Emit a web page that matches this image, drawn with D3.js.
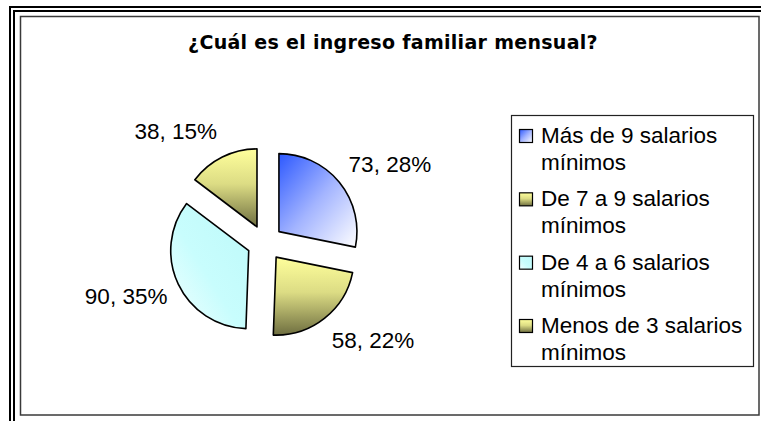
<!DOCTYPE html>
<html>
<head>
<meta charset="utf-8">
<script src="https://cdn.jsdelivr.net/npm/d3@7"></script>
<style>
  html, body { margin: 0; padding: 0; background: #fff; }
  svg { display: block; }
</style>
</head>
<body>
<svg id="chart" width="761" height="421"></svg>
<script>
// Ingreso familiar mensual: número de familias por rango de salarios mínimos
const categories = [
  ["Más de 9 salarios", "mínimos"],
  ["De 7 a 9 salarios", "mínimos"],
  ["De 4 a 6 salarios", "mínimos"],
  ["Menos de 3 salarios", "mínimos"]
];
const values = [73, 58, 90, 38];
const fills = ["blue", "olive", "cyan", "olive"];
const titleText = "¿Cuál es el ingreso familiar mensual?";

const svg = d3.select("#chart");
const W = 761, H = 421;

// gradient fills
const defs = svg.append("defs");
function grad(id, x1, y1, x2, y2, stops) {
  const g = defs.append("linearGradient").attr("id", id)
    .attr("x1", x1).attr("y1", y1).attr("x2", x2).attr("y2", y2);
  stops.forEach(([o, c]) => g.append("stop").attr("offset", o).attr("stop-color", c));
}
grad("g-blue", 0, 0, 1, 1, [[0, "#2c58ff"], [0.5, "#a3b4ff"], [1, "#ffffff"]]);
grad("g-olive", 0, 0, 0, 1, [[0, "#ffff9c"], [0.45, "#dcdc84"], [1, "#6e6e40"]]);
grad("g-cyan", 1, 0, 0, 1, [[0, "#bdf9f9"], [0.55, "#c8fdfd"], [1, "#f2ffff"]]);

// frame: double rule on top and left, plus inner plot box
const frame = svg.append("g");
frame.append("line").attr("x1", 9).attr("x2", W).attr("y1", 7).attr("y2", 7)
  .attr("stroke", "#000").attr("stroke-width", 2);
frame.append("line").attr("x1", 13).attr("x2", W).attr("y1", 11).attr("y2", 11)
  .attr("stroke", "#000").attr("stroke-width", 2);
frame.append("line").attr("x1", 10).attr("x2", 10).attr("y1", 6).attr("y2", H)
  .attr("stroke", "#000").attr("stroke-width", 2);
frame.append("line").attr("x1", 14).attr("x2", 14).attr("y1", 10).attr("y2", H)
  .attr("stroke", "#000").attr("stroke-width", 2);
frame.append("rect").attr("x", 20.5).attr("y", 16.5).attr("width", 738.5).attr("height", 398.5)
  .attr("fill", "#fff").attr("stroke", "#3a3a3a").attr("stroke-width", 1.5);

// title
svg.append("text")
  .attr("x", 393).attr("y", 49)
  .attr("text-anchor", "middle")
  .attr("font-family", "'DejaVu Sans', Verdana, sans-serif")
  .attr("font-weight", "bold")
  .attr("font-size", 19)
  .attr("letter-spacing", 0.3)
  .attr("fill", "#000")
  .text(titleText);

// pie
const cx = 265, cy = 243, radius = 78, explode = 18;
const labelRx = 108, labelRy = 124;
const total = d3.sum(values);
const pie = d3.pie().sort(null).value(d => d)(values);
const arc = d3.arc().innerRadius(0).outerRadius(radius);
const pctFmt = v => Math.round(v / total * 100) + "%";

const pieG = svg.append("g").attr("transform", `translate(${cx},${cy})`);
pie.forEach((d, i) => {
  const mid = (d.startAngle + d.endAngle) / 2;
  const dx = Math.sin(mid), dy = -Math.cos(mid);
  pieG.append("path")
    .attr("transform", `translate(${dx * explode},${dy * explode})`)
    .attr("d", arc(d))
    .attr("fill", `url(#g-${fills[i]})`)
    .attr("stroke", "#000")
    .attr("stroke-width", 1.6)
    .attr("stroke-linejoin", "round");
  pieG.append("text")
    .attr("x", dx * labelRx)
    .attr("y", dy * labelRy)
    .attr("text-anchor", dx >= 0 ? "start" : "end")
    .attr("dominant-baseline", "central")
    .attr("font-family", "'Liberation Sans', Arial, sans-serif")
    .attr("font-size", 22.5)
    .attr("fill", "#000")
    .text(`${d.data}, ${pctFmt(d.data)}`);
});

// legend
const legend = svg.append("g");
legend.append("rect").attr("x", 511.5).attr("y", 115.5).attr("width", 242).attr("height", 251)
  .attr("fill", "#fff").attr("stroke", "#222").attr("stroke-width", 1.2);
const itemY = d3.scalePoint().domain(d3.range(categories.length)).range([143, 333]);
categories.forEach((lines, i) => {
  const y0 = itemY(i);
  legend.append("rect")
    .attr("x", 519.5).attr("y", y0 - 13.5).attr("width", 13).attr("height", 13)
    .attr("fill", `url(#g-${fills[i]})`)
    .attr("stroke", "#000").attr("stroke-width", 1.2);
  lines.forEach((t, j) => {
    legend.append("text")
      .attr("x", 541).attr("y", y0 + j * 27)
      .attr("font-family", "'Liberation Sans', Arial, sans-serif")
      .attr("font-size", 22.5)
      .attr("fill", "#000")
      .text(t);
  });
});
</script>
</body>
</html>
